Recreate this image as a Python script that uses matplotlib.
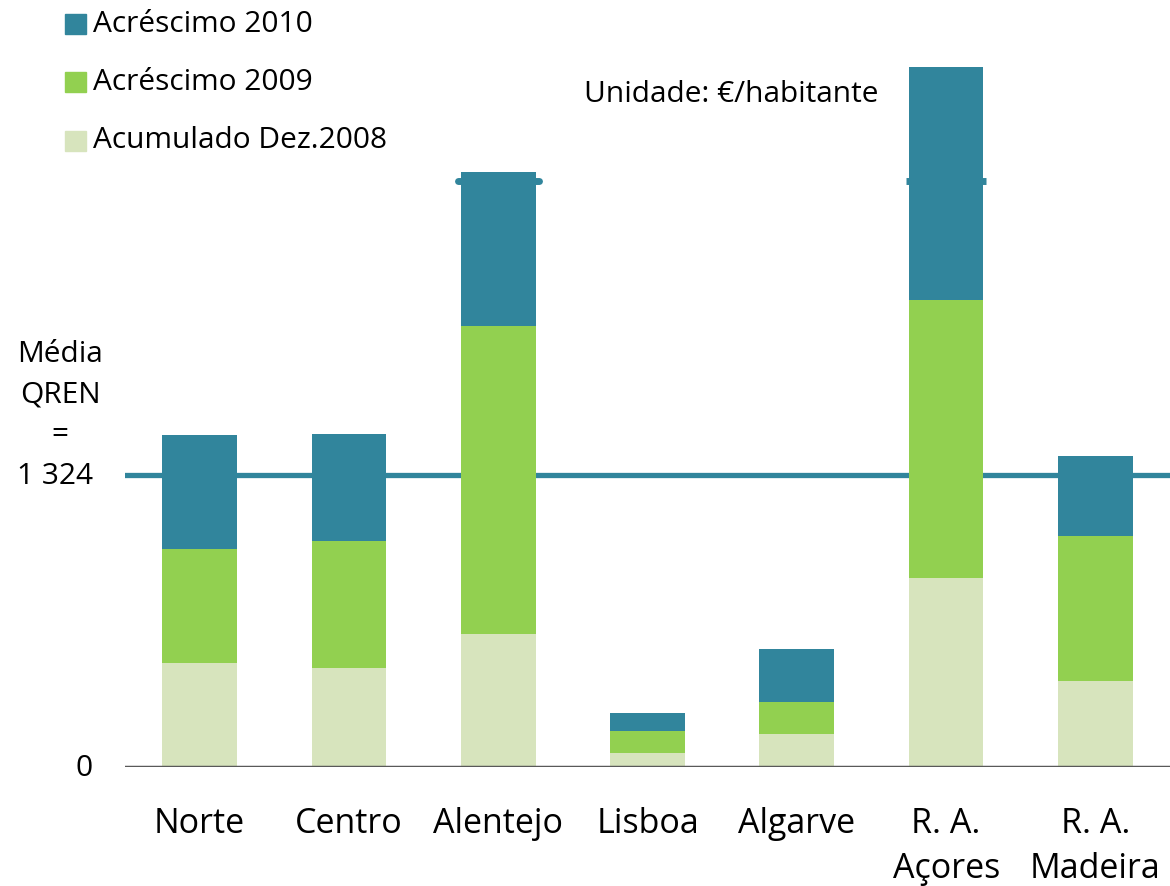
import matplotlib
matplotlib.use("Agg")
import matplotlib.pyplot as plt
from matplotlib.patches import Rectangle

regions = ["Norte", "Centro", "Alentejo", "Lisboa", "Algarve", "R. A.\nAçores", "R. A.\nMadeira"]
acum_2008 = [472, 449, 603, 63, 150, 857, 390]
acresc_2009 = [516, 576, 1397, 100, 145, 1260, 657]
acresc_2010 = [517, 485, 698, 82, 240, 1057, 363]
media_qren = 1324
ref_line_high = 2657
series_labels = ["Acréscimo 2010", "Acréscimo 2009", "Acumulado Dez.2008"]

c2010 = "#31859C"
c2009 = "#92D050"
c2008 = "#D7E4BD"
font = "Open Sans"

W, H = 1170, 886
fig = plt.figure(figsize=(W / 100, H / 100), dpi=100)
ax = fig.add_axes([125 / W, (H - 767) / H, 1045 / W, 767 / H])
ymax = 767 * (1324 / 292)
ax.set_xlim(-0.5, len(regions) - 0.5)
ax.set_ylim(0, ymax)
ax.axis("off")

x = list(range(len(regions)))
bw = 0.5
ax.axhline(media_qren, color=c2010, lw=3.8, zorder=1)
for i in (2, 5):
    ax.plot([x[i] - 0.27, x[i] + 0.27], [ref_line_high, ref_line_high], color=c2010,
            lw=5, solid_capstyle="round" if i == 2 else "butt", zorder=1)
ax.bar(x, acum_2008, bw, color=c2008, zorder=2)
bottom2 = [a for a in acum_2008]
ax.bar(x, acresc_2009, bw, bottom=bottom2, color=c2009, zorder=2)
bottom3 = [a + b for a, b in zip(acum_2008, acresc_2009)]
ax.bar(x, acresc_2010, bw, bottom=bottom3, color=c2010, zorder=2)
ax.axhline(0, color="#595959", lw=2.5, zorder=3)

# category labels
for xi, lab in zip(x, regions):
    xc = (125 + 149.3 * (xi + 0.5)) / W
    parts = lab.split("\n")
    fig.text(xc, 1 - 833 / H, parts[0], ha="center", va="baseline", fontsize=24.5, family=font)
    if len(parts) > 1:
        fig.text(xc, 1 - 878 / H, parts[1], ha="center", va="baseline", fontsize=24.5, family=font)

fs = 21.5
# left annotations
fig.text(60 / W, 1 - 355 / H, "Média", ha="center", va="center", fontsize=fs, family=font)
fig.text(60 / W, 1 - 395 / H, "QREN", ha="center", va="center", fontsize=fs, family=font)
fig.text(60 / W, 1 - 435 / H, "=", ha="center", va="center", fontsize=fs, family=font)
fig.text(55 / W, 1 - 476 / H, "1 324", ha="center", va="center", fontsize=fs, family=font)
fig.text(84 / W, 1 - 768 / H, "0", ha="center", va="center", fontsize=fs, family=font)

fig.text(731 / W, 1 - 95 / H, "Unidade: €/habitante", ha="center", va="center",
         fontsize=fs, family=font)

# legend
for yc, lab, col in zip([24, 82, 141], series_labels, [c2010, c2009, c2008]):
    fig.patches.append(Rectangle((65 / W, 1 - (yc + 10) / H), 21 / W, 20 / H,
                                 transform=fig.transFigure, color=col))
    fig.text(93 / W, 1 - yc / H, lab, ha="left", va="center", fontsize=fs, family=font)

fig.savefig("out.png", dpi=100)
